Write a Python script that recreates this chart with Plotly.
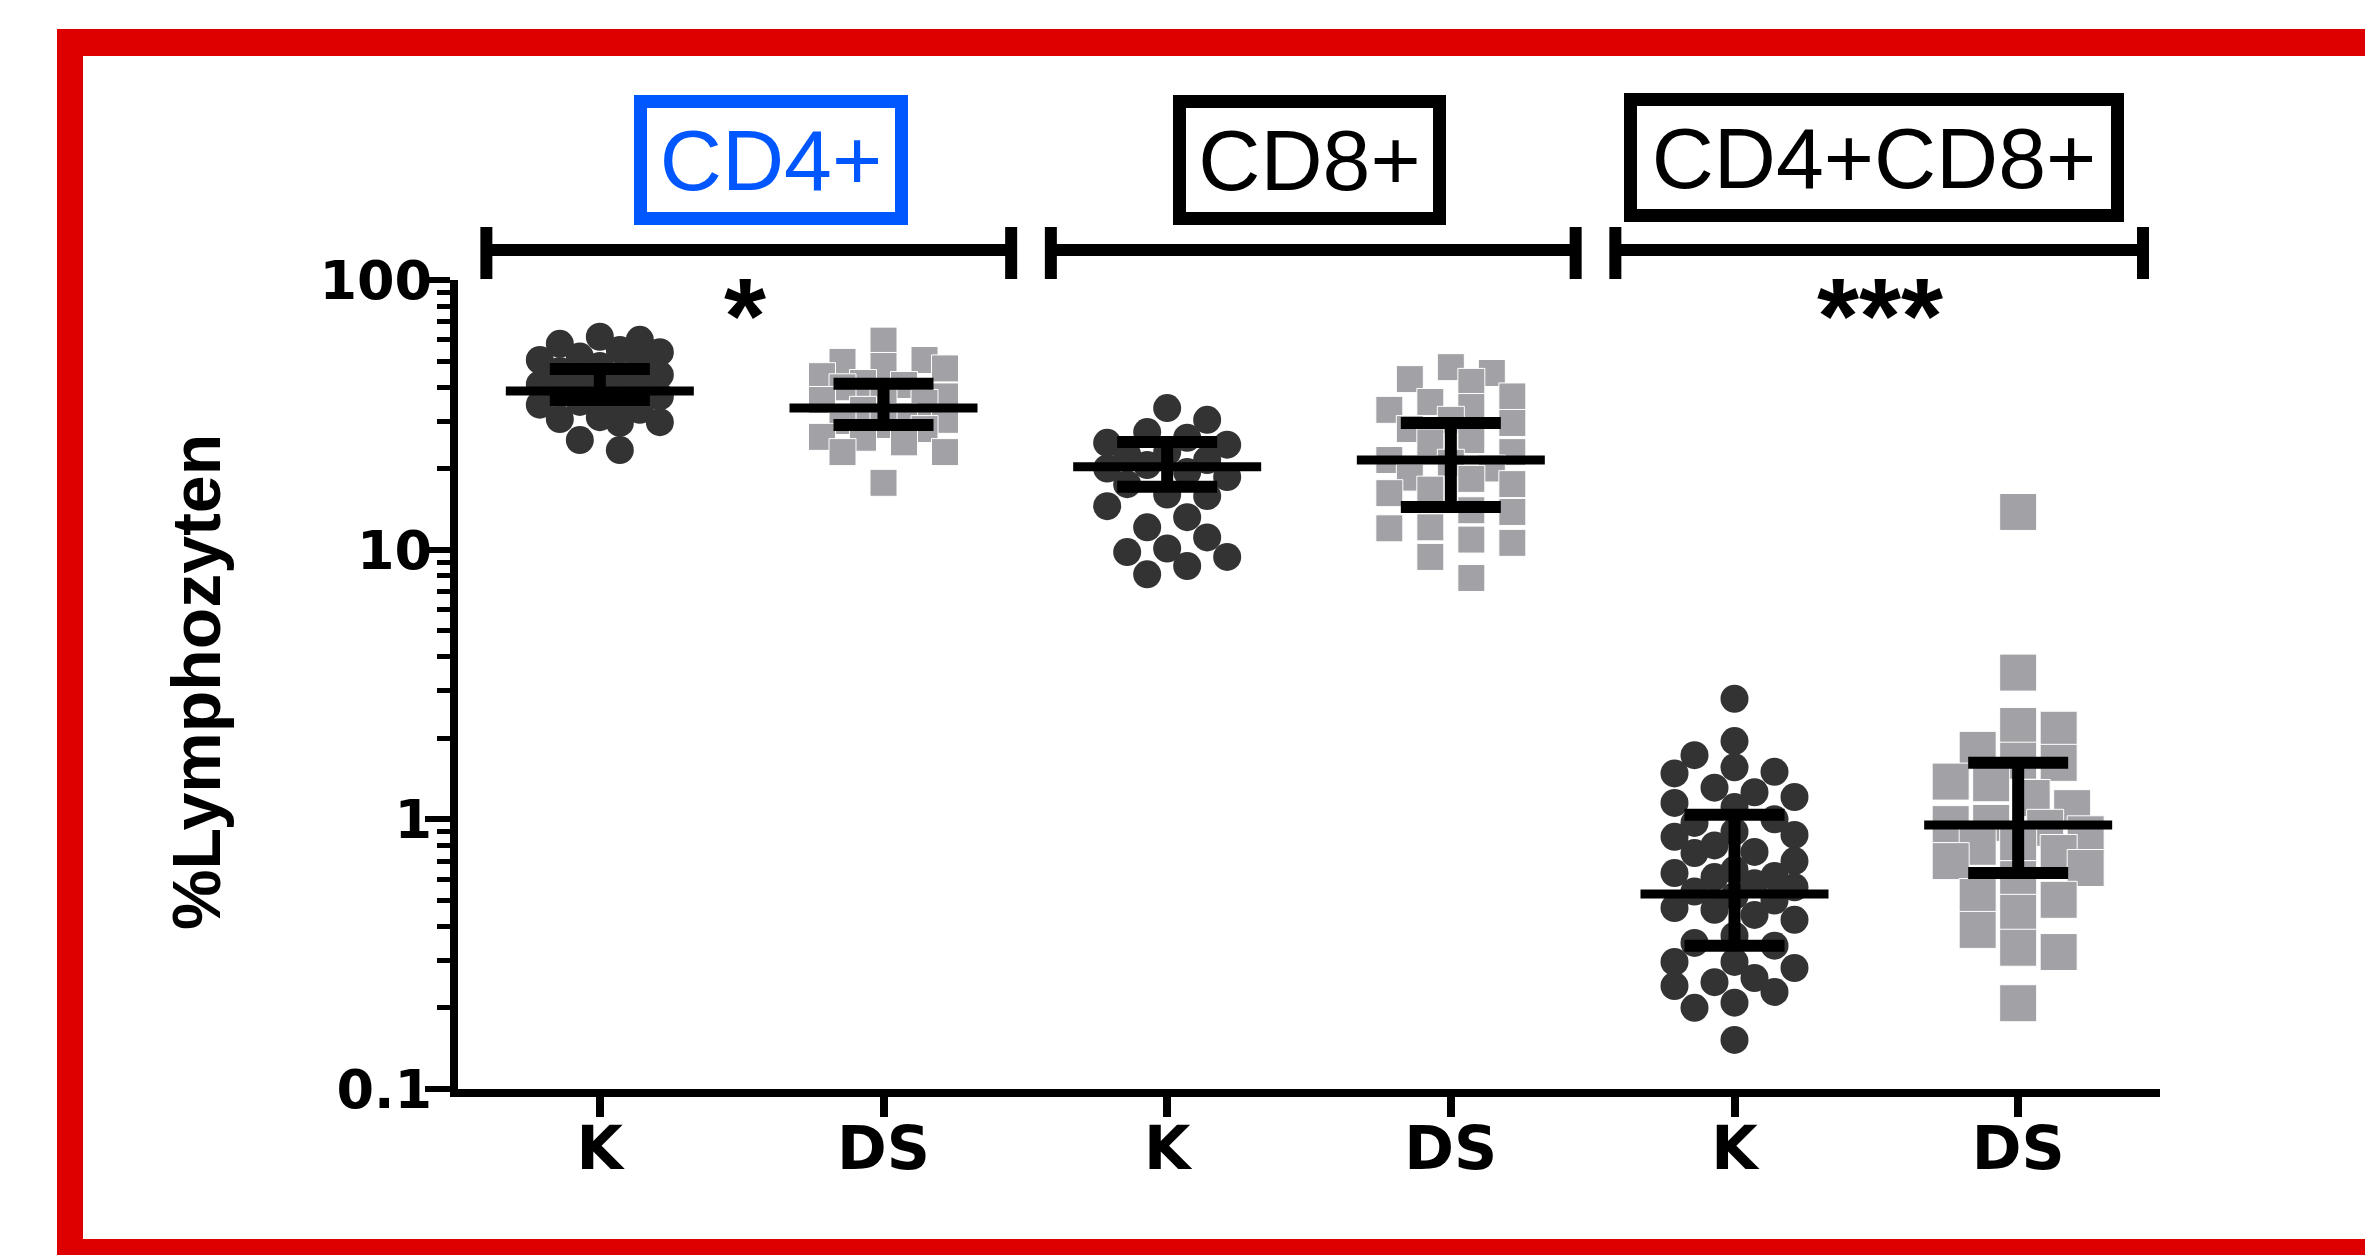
import math
import plotly.graph_objects as go

# ---------------- data ----------------
tick_labels = ["K", "DS", "K", "DS", "K", "DS"]
panel_labels = ["CD4+", "CD8+", "CD4+CD8+"]
panel_stars = ["*", "", "***"]
y_tick_vals = [0.1, 1, 10, 100]
y_tick_text = ["0.1", "1", "10", "100"]
y_title = "%Lymphozyten"

cd4_k = [61.6, 60.0, 58.0, 55.0, 54.0, 52.0, 50.5, 49.2, 48.0, 46.0, 44.5, 43.6, 42.5, 41.0,
         40.0, 39.0, 38.0, 37.0, 36.0, 35.3, 34.5, 33.0, 31.0, 30.5, 29.7, 29.5, 25.5, 23.4]
cd4_ds = [59.6, 50.5, 49.7, 48.0, 47.0, 44.0, 41.5, 40.8, 40.0, 37.0, 36.0, 35.9, 35.0, 33.0,
          31.0, 30.3, 30.0, 29.0, 28.0, 26.2, 26.0, 25.0, 23.0, 23.0, 17.7]
cd8_k = [33.5, 30.3, 27.3, 26.0, 24.9, 24.5, 23.0, 22.5, 21.5, 20.6, 20.0, 19.4, 18.6, 17.5,
         16.0, 15.8, 14.5, 13.2, 12.1, 11.1, 10.1, 9.8, 9.4, 8.7, 8.1]
cd8_ds = [47.5, 45.2, 42.9, 41.9, 37.0, 35.3, 33.8, 33.0, 30.3, 29.5, 28.0, 25.5, 25.0, 23.0,
          21.5, 21.0, 20.0, 18.5, 18.3, 17.5, 16.7, 16.2, 14.0, 13.8, 12.1, 12.0, 10.9, 10.6,
          9.4, 7.85]
cd48_k = [2.80, 1.95, 1.73, 1.56, 1.50, 1.48, 1.31, 1.26, 1.21, 1.15, 1.11, 1.00, 0.970, 0.900,
          0.875, 0.861, 0.800, 0.757, 0.750, 0.700, 0.650, 0.632, 0.617, 0.611, 0.580, 0.560,
          0.540, 0.520, 0.500, 0.469, 0.462, 0.442, 0.424, 0.370, 0.348, 0.340, 0.296, 0.296,
          0.281, 0.258, 0.249, 0.241, 0.229, 0.209, 0.200, 0.152]
cd48_ds = [13.8, 3.5, 2.22, 2.15, 1.81, 1.65, 1.62, 1.38, 1.36, 1.20, 1.10, 0.97, 0.96, 0.93,
           0.88, 0.824, 0.791, 0.75, 0.70, 0.66, 0.60, 0.515, 0.503, 0.45, 0.389, 0.334, 0.322,
           0.208]

means = [38.8, 33.5, 20.3, 21.5, 0.529, 0.953]
err_low = [35.9, 29.0, 17.1, 14.4, 0.340, 0.633]
err_high = [46.8, 41.2, 25.1, 29.5, 1.04, 1.62]

groups = [cd4_k, cd4_ds, cd8_k, cd8_ds, cd48_k, cd48_ds]

# ---------------- layout geometry (pixels) ----------------
W, H = 2365, 1255
PL, PR, PT, PB = 458, 2160, 280, 1089
YMIN, YMAX = -1.0, 2.0
XMIN, XMAX = -0.5, 5.5
UX = (PR - PL) / (XMAX - XMIN)
UY = (PB - PT) / (YMAX - YMIN)

DARK = "#333333"
GREY = "#A2A1A6"
RED = "#DE0000"
BLUE = "#0057FF"


def ypx(v):
    return PB - (math.log10(v) - YMIN) * UY


def paper_x(p):
    return (p - PL) / (PR - PL)


def paper_y(p):
    return (PB - p) / (PB - PT)


def swarm(values, step, gap_x, gap_y, max_off, square):
    """Deterministic column-based dot arrangement (GraphPad-like scatter)."""
    ys = [ypx(v) for v in values]
    order = sorted(range(len(values)), key=lambda k: ys[k])
    placed = []
    offs = [0.0] * len(values)
    nmax = int(max_off // step)
    for idx, k in enumerate(order):
        y = ys[k]
        cands = [0.0]
        for n in range(1, nmax + 1):
            if idx % 2 == 0:
                cands += [-n * step, n * step]
            else:
                cands += [n * step, -n * step]
        chosen = None
        best, best_score = 0.0, -1.0
        for c in cands:
            ok = True
            score = 1e9
            for qx, qy in placed:
                dx = abs(c - qx)
                dy = abs(y - qy)
                if square:
                    hit = dx < gap_x and dy < gap_y
                else:
                    hit = dx * dx + dy * dy < gap_x * gap_x
                if hit:
                    ok = False
                score = min(score, math.hypot(dx, dy))
            if ok:
                chosen = c
                break
            if score > best_score:
                best_score, best = score, c
        if chosen is None:
            chosen = best
        placed.append((chosen, y))
        offs[k] = chosen
    return offs


# marker style per group: (symbol, color, size, step, gap_x, gap_y, max offset, square?)
styles = [
    ("circle", DARK, 28, 20, 25, 25, 62, False),
    ("square", GREY, 27, 20.5, 26, 24, 62, True),
    ("circle", DARK, 28, 20, 25, 25, 62, False),
    ("square", GREY, 27, 20.5, 26, 24, 62, True),
    ("circle", DARK, 28, 20, 26, 26, 62, False),
    ("square", GREY, 37, 13.5, 34, 32, 68, True),
]

fig = go.Figure()

for i, (vals, st) in enumerate(zip(groups, styles)):
    sym, col, size, step, gx, gy, mo, sq = st
    offs = swarm(vals, step, gx, gy, mo, sq)
    xs = [i + o / UX for o in offs]
    fig.add_trace(go.Scatter(
        x=xs, y=vals, mode="markers",
        marker=dict(symbol=sym, color=col, size=size,
                    line=dict(color="white", width=1 if sq else 0)),
        hoverinfo="skip", showlegend=False))

# mean line (line-ew symbol length = 1.4 * size) + error bars
fig.add_trace(go.Scatter(
    x=list(range(len(means))), y=means, mode="markers",
    marker=dict(symbol="line-ew", size=188 / 1.4, color="black",
                line=dict(color="black", width=9)),
    error_y=dict(type="data", symmetric=False,
                 array=[h - m for h, m in zip(err_high, means)],
                 arrayminus=[m - l for m, l in zip(means, err_low)],
                 color="black", thickness=12, width=50),
    hoverinfo="skip", showlegend=False))

shapes = []
# red frame
for x0, y0, x1, y1 in [(57, 29, 83, 1255), (57, 29, 2365, 56), (57, 1239, 2365, 1255)]:
    shapes.append(dict(type="rect", xref="paper", yref="paper",
                       x0=paper_x(x0), x1=paper_x(x1), y0=paper_y(y0), y1=paper_y(y1),
                       fillcolor=RED, line=dict(width=0), layer="above"))

# group brackets (data x units)
bracket_spans = [(-0.40, 1.45), (1.59, 3.44), (3.58, 5.44)]
by = paper_y(250)
bc0, bc1 = paper_y(227), paper_y(279)
for a, b in bracket_spans:
    shapes.append(dict(type="line", xref="x", yref="paper", x0=a, x1=b, y0=by, y1=by,
                       line=dict(color="black", width=12)))
    for xx in (a, b):
        shapes.append(dict(type="line", xref="x", yref="paper", x0=xx, x1=xx, y0=bc0, y1=bc1,
                           line=dict(color="black", width=12)))

annotations = []
box_x = [0.603, 2.502, 4.492]
box_w = [248, 247, 474]
box_h = [104, 104, 103]
box_y = [160.5, 160.5, 157]
box_col = [BLUE, "black", "black"]
for lab, bx, bw, bh, byy, bcol in zip(panel_labels, box_x, box_w, box_h, box_y, box_col):
    annotations.append(dict(
        text=lab, x=bx, y=paper_y(byy), xref="x", yref="paper",
        xanchor="center", yanchor="middle", showarrow=False,
        width=bw, height=bh, borderwidth=13, borderpad=0, bordercolor=bcol,
        bgcolor="white",
        font=dict(family="Liberation Sans, Arial", size=86, color=bcol)))

star_x = [0.512, 2.5, 4.513]
for s, sx in zip(panel_stars, star_x):
    if s:
        annotations.append(dict(
            text=s, x=sx, y=paper_y(315), xref="x", yref="paper",
            xanchor="center", yanchor="middle", showarrow=False,
            font=dict(family="Liberation Sans, Arial", size=108, color="black", weight="bold")))

annotations.append(dict(
    text=y_title, x=paper_x(196), y=paper_y(682), xref="paper", yref="paper",
    xanchor="center", yanchor="middle", showarrow=False, textangle=-90,
    font=dict(family="Liberation Sans, Arial", size=68, color="black", weight="bold")))

minor_vals = [m * 10 ** e for e in (-1, 0, 1) for m in range(2, 10)]

fig.update_layout(
    width=W, height=H,
    margin=dict(l=PL, r=W - PR, t=PT, b=H - PB, pad=0),
    paper_bgcolor="white", plot_bgcolor="white",
    showlegend=False, hovermode=False,
    shapes=shapes, annotations=annotations,
    xaxis=dict(range=[XMIN, XMAX], tickmode="array", tickvals=list(range(6)),
               ticktext=tick_labels, showline=True, linecolor="black", linewidth=8,
               ticks="outside", ticklen=20, tickwidth=8, tickcolor="black",
               ticklabelstandoff=-20,
               tickfont=dict(family="DejaVu Sans", size=60, color="black", weight="bold"),
               showgrid=False, zeroline=False),
    yaxis=dict(type="log", range=[YMIN, YMAX], tickmode="array", tickvals=y_tick_vals,
               ticktext=y_tick_text, showline=True, linecolor="black", linewidth=8,
               ticks="outside", ticklen=25, tickwidth=6, tickcolor="black",
               ticklabelstandoff=-18,
               tickfont=dict(family="DejaVu Sans", size=54, color="black", weight="bold"),
               minor=dict(tickmode="array", tickvals=minor_vals, ticks="outside",
                          ticklen=13, tickwidth=5, tickcolor="black"),
               showgrid=False, zeroline=False),
)

fig.write_html("out.html",
               config={"displayModeBar": False, "staticPlot": True},
               post_script="document.body.style.margin='0px';"
                           "document.body.style.overflow='hidden';")
